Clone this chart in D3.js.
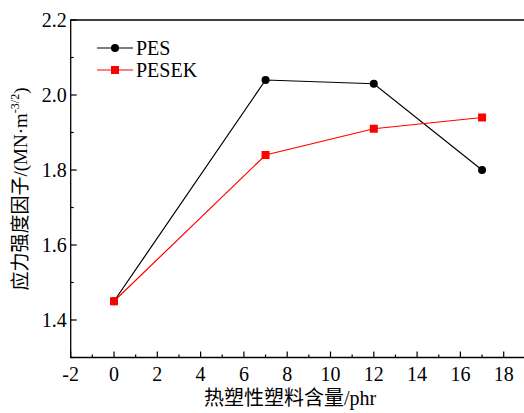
<!DOCTYPE html>
<html>
<head>
    <meta charset="utf-8" />
    <script src="https://cdn.jsdelivr.net/npm/d3@7"></script>
    <style>
        body { margin: 0; background: #fff; }
        svg text { font-family: "Liberation Serif", "Times New Roman", "Noto Sans CJK SC", serif; fill: #000; }
    </style>
</head>
<body>
    <div id="chart"></div>
    <script>
        var content = [0, 7, 12, 17];
        var pesValues = [1.45, 2.04, 2.03, 1.80];
        var pesekValues = [1.45, 1.84, 1.91, 1.94];
        var xTicks = [-2, 0, 2, 4, 6, 8, 10, 12, 14, 16, 18];
        var yTicks = [1.4, 1.6, 1.8, 2.0, 2.2];

        var width = 524, height = 413;
        var plotLeft = 70.7, plotTop = 20, plotBottom = 357.5;

        var x = d3.scaleLinear().domain([-2, 19]).range([plotLeft, plotLeft + 21 * 21.65]);
        var y = d3.scaleLinear().domain([1.3, 2.2]).range([plotBottom, plotTop]);

        var svg = d3.select("#chart").append("svg")
            .attr("width", width)
            .attr("height", height);

        // frame (bottom, left, top)
        svg.append("path")
            .attr("d", "M" + width + "," + plotTop + "H" + plotLeft + "V" + plotBottom + "H" + width)
            .attr("fill", "none")
            .attr("stroke", "#000")
            .attr("stroke-width", 1.3);

        // x ticks, inward
        var xMinor = d3.range(-1, 19, 2);
        svg.selectAll(".xmaj").data(xTicks).enter().append("line")
            .attr("x1", function (d) { return x(d); }).attr("x2", function (d) { return x(d); })
            .attr("y1", plotBottom).attr("y2", plotBottom - 6)
            .attr("stroke", "#000").attr("stroke-width", 1.2);
        svg.selectAll(".xmin").data(xMinor).enter().append("line")
            .attr("x1", function (d) { return x(d); }).attr("x2", function (d) { return x(d); })
            .attr("y1", plotBottom).attr("y2", plotBottom - 3)
            .attr("stroke", "#000").attr("stroke-width", 1.2);
        svg.selectAll(".xlab").data(xTicks).enter().append("text")
            .attr("x", function (d) { return x(d); })
            .attr("y", plotBottom + 23)
            .attr("text-anchor", "middle")
            .attr("font-size", 20)
            .text(function (d) { return d; });

        // y ticks, inward
        var yMinor = [1.3, 1.5, 1.7, 1.9, 2.1];
        svg.selectAll(".ymaj").data(yTicks).enter().append("line")
            .attr("x1", plotLeft).attr("x2", plotLeft + 6)
            .attr("y1", function (d) { return y(d); }).attr("y2", function (d) { return y(d); })
            .attr("stroke", "#000").attr("stroke-width", 1.2);
        svg.selectAll(".ymin").data(yMinor).enter().append("line")
            .attr("x1", plotLeft).attr("x2", plotLeft + 3)
            .attr("y1", function (d) { return y(d); }).attr("y2", function (d) { return y(d); })
            .attr("stroke", "#000").attr("stroke-width", 1.2);
        svg.selectAll(".ylab").data(yTicks).enter().append("text")
            .attr("x", plotLeft - 4)
            .attr("y", function (d) { return y(d) + 7; })
            .attr("text-anchor", "end")
            .attr("font-size", 20)
            .text(function (d) { return d.toFixed(1); });

        // axis titles
        svg.append("text")
            .attr("x", 290).attr("y", 405)
            .attr("text-anchor", "middle")
            .attr("font-size", 20)
            .text("热塑性塑料含量/phr");

        var yt = svg.append("text")
            .attr("transform", "translate(27,189) rotate(-90)")
            .attr("text-anchor", "middle")
            .attr("font-size", 19);
        yt.append("tspan").text("应力强度因子/(MN·m");
        yt.append("tspan").attr("font-size", 12).attr("dy", -8).text("-3/2");
        yt.append("tspan").attr("dy", 8).text(")");

        var line = d3.line()
            .x(function (d) { return x(d[0]); })
            .y(function (d) { return y(d[1]); });

        var pes = content.map(function (c, i) { return [c, pesValues[i]]; });
        var pesek = content.map(function (c, i) { return [c, pesekValues[i]]; });

        svg.append("path").datum(pes).attr("d", line)
            .attr("fill", "none").attr("stroke", "#000").attr("stroke-width", 1.2);
        svg.append("path").datum(pesek).attr("d", line)
            .attr("fill", "none").attr("stroke", "#ff0000").attr("stroke-width", 1.2);

        svg.selectAll(".pes").data(pes).enter().append("circle")
            .attr("cx", function (d) { return x(d[0]); })
            .attr("cy", function (d) { return y(d[1]); })
            .attr("r", 4).attr("fill", "#000");
        svg.selectAll(".pesek").data(pesek).enter().append("rect")
            .attr("x", function (d) { return x(d[0]) - 4; })
            .attr("y", function (d) { return y(d[1]) - 4; })
            .attr("width", 8).attr("height", 8).attr("fill", "#ff0000");

        // legend
        var legend = [
            { label: "PES", color: "#000", shape: "circle", y: 48 },
            { label: "PESEK", color: "#ff0000", shape: "square", y: 70 }
        ];
        legend.forEach(function (d) {
            svg.append("line").attr("x1", 97).attr("x2", 133)
                .attr("y1", d.y).attr("y2", d.y)
                .attr("stroke", d.color).attr("stroke-width", 1.2);
            if (d.shape === "circle") {
                svg.append("circle").attr("cx", 115).attr("cy", d.y).attr("r", 4).attr("fill", d.color);
            } else {
                svg.append("rect").attr("x", 111).attr("y", d.y - 4).attr("width", 8).attr("height", 8).attr("fill", d.color);
            }
            svg.append("text").attr("x", 136).attr("y", d.y + 7)
                .attr("font-size", 20).text(d.label);
        });
    </script>
</body>
</html>
